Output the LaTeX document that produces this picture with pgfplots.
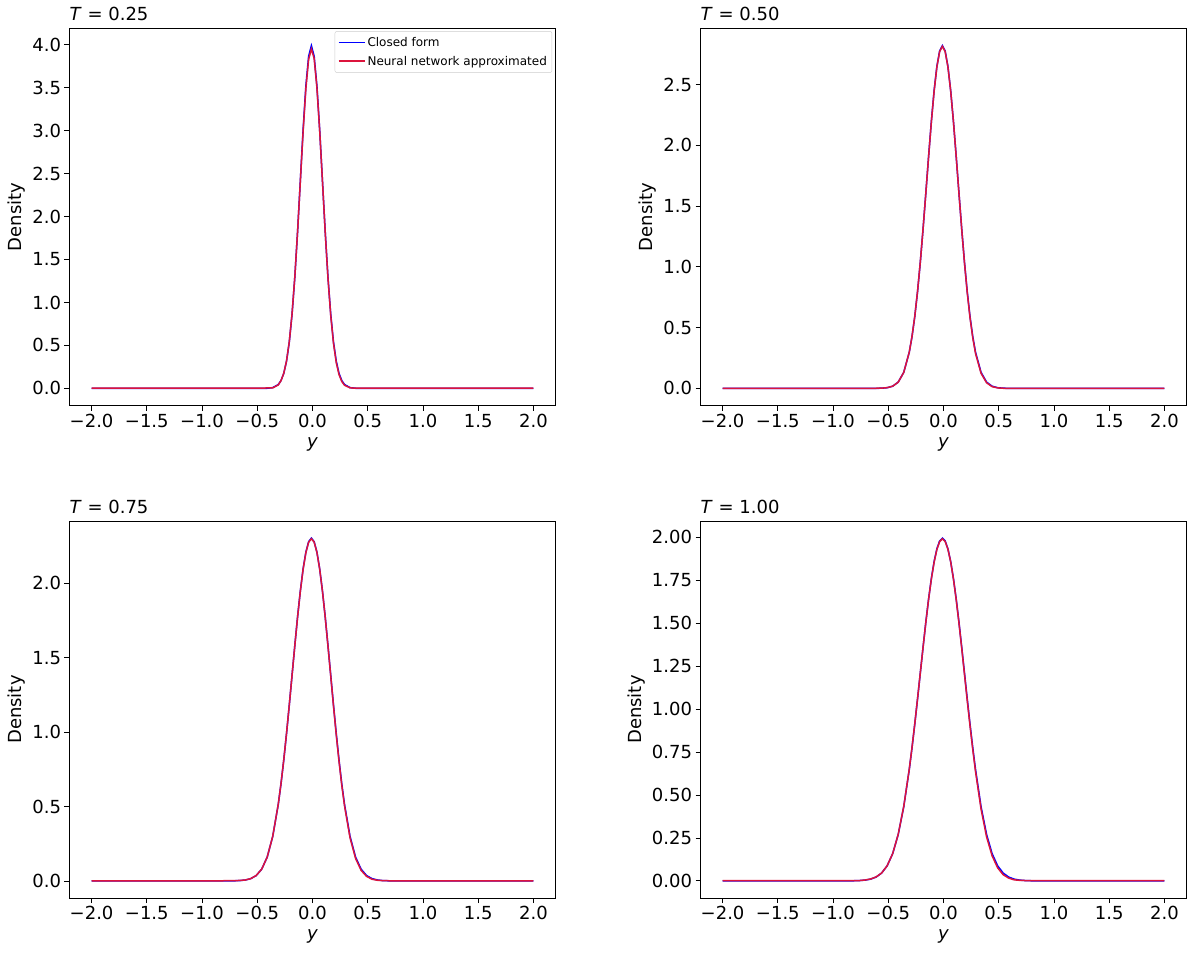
\documentclass[border=0pt]{standalone}
\usepackage{pgfplots}
\pgfplotsset{compat=1.18}
\usepackage{fontspec}
\setmainfont{DejaVu Sans}

\definecolor{cfblue}{RGB}{0,0,255}
\definecolor{nnred}{RGB}{220,20,60}

\newcommand{\panelfont}{\fontsize{18}{21}\selectfont}

\pgfplotsset{
  panel/.style={
    scale only axis, width=486pt, height=377pt,
    anchor=south west,
    xmin=-2.2, xmax=2.2,
    xtick={-2,-1.5,-1,-0.5,0,0.5,1,1.5,2},
    xticklabels={−2.0,−1.5,−1.0,−0.5,0.0,0.5,1.0,1.5,2.0},
    tick align=outside, tick pos=left, major tick length=5pt,
    axis line style={line width=0.8pt},
    every tick/.style={black, line width=0.8pt},
    tick label style={font=\panelfont},
    label style={font=\panelfont},
    xlabel={\textit{y}}, ylabel={Density},
    xlabel style={yshift=-3pt},
    title style={at={(0,1)}, anchor=base west, yshift=2pt, inner sep=0pt, font=\panelfont},
  },
  cf/.style={draw=cfblue, line width=1.5pt, no marks},
  nn/.style={draw=nnred, line width=1.5pt, no marks},
}

\begin{document}
\begin{tikzpicture}
\path[use as bounding box] (0pt,0pt) rectangle (1192pt,-954pt);

% ---------- T = 0.25 ----------
\begin{axis}[panel, at={(69.5pt,-405.5pt)},
    ymin=-0.1995, ymax=4.189,
    ytick={0,0.5,1,1.5,2,2.5,3,3.5,4},
    yticklabels={0.0,0.5,1.0,1.5,2.0,2.5,3.0,3.5,4.0},
    title={\textit{T} = 0.25},
    legend cell align=left,
    legend image code/.code={\draw[#1] (0pt,0pt) -- (26pt,0pt);},
    legend style={at={(0.993,0.993)}, anchor=north east,
      font=\fontsize{12}{14}\selectfont, draw=black!20, rounded corners=2pt,
      fill=white, inner xsep=3pt, inner ysep=4pt, row sep=4pt}]
\addlegendimage{draw=cfblue, color=cfblue, line width=1.6pt}
\addlegendentry{Closed form}
\addlegendimage{draw=nnred, color=nnred, line width=1.6pt}
\addlegendentry{Neural network approximated}
\addplot[cf, forget plot] coordinates {
  (-2,0) (-0.51,0) (-0.41,0.0013) (-0.36,0.0087) (-0.31,0.0443)
  (-0.285,0.0909) (-0.26,0.1753) (-0.235,0.3175) (-0.21,0.540) (-0.185,0.863)
  (-0.16,1.295) (-0.135,1.826) (-0.11,2.420) (-0.085,3.011) (-0.06,3.521)
  (-0.035,3.866) (-0.01,3.989) (0.015,3.866) (0.04,3.521) (0.065,3.011)
  (0.09,2.420) (0.115,1.826) (0.14,1.295) (0.165,0.863) (0.19,0.540)
  (0.215,0.3175) (0.24,0.1753) (0.265,0.0909) (0.29,0.0443) (0.34,0.0087)
  (0.39,0.0013) (0.49,0) (2,0)
};
\addplot[nn, forget plot] coordinates {
  (-2,0.002) (-0.51,0.002) (-0.36,0.006) (-0.31,0.040)
  (-0.285,0.090) (-0.26,0.176) (-0.235,0.320) (-0.21,0.545) (-0.185,0.870)
  (-0.16,1.300) (-0.135,1.826) (-0.11,2.410) (-0.085,2.990) (-0.06,3.490)
  (-0.035,3.830) (-0.01,3.950) (0.015,3.840) (0.04,3.500) (0.065,3.000)
  (0.09,2.415) (0.115,1.820) (0.14,1.285) (0.165,0.850) (0.19,0.525)
  (0.215,0.300) (0.24,0.160) (0.265,0.080) (0.29,0.036) (0.34,0.006)
  (0.39,0.002) (0.49,0.002) (2,0.002)
};
\end{axis}

% ---------- T = 0.50 ----------
\begin{axis}[panel, at={(700.5pt,-405.5pt)},
    ymin=-0.141, ymax=2.962,
    ytick={0,0.5,1,1.5,2,2.5},
    yticklabels={0.0,0.5,1.0,1.5,2.0,2.5},
    title={\textit{T} = 0.50}]
\addplot[cf] coordinates {
  (-2,0) (-0.71,0) (-0.61,0.0004) (-0.56,0.0015) (-0.51,0.0055) (-0.46,0.0179)
  (-0.41,0.0517) (-0.36,0.1319) (-0.31,0.2974) (-0.285,0.426) (-0.26,0.591)
  (-0.235,0.796) (-0.21,1.038) (-0.185,1.312) (-0.16,1.607) (-0.135,1.909)
  (-0.11,2.197) (-0.085,2.451) (-0.06,2.650) (-0.035,2.777) (-0.01,2.821)
  (0.015,2.777) (0.04,2.650) (0.065,2.451) (0.09,2.197) (0.115,1.909)
  (0.14,1.607) (0.165,1.312) (0.19,1.038) (0.215,0.796) (0.24,0.591)
  (0.265,0.426) (0.29,0.2974) (0.34,0.1319) (0.39,0.0517) (0.44,0.0179)
  (0.49,0.0055) (0.54,0.0015) (0.59,0.0004) (0.69,0) (2,0)
};
\addplot[nn] coordinates {
  (-2,0.001) (-0.71,0.001) (-0.61,0.001) (-0.56,0.002) (-0.51,0.006) (-0.46,0.018)
  (-0.41,0.051) (-0.36,0.131) (-0.31,0.298) (-0.285,0.428) (-0.26,0.594)
  (-0.235,0.799) (-0.21,1.040) (-0.185,1.313) (-0.16,1.606) (-0.135,1.906)
  (-0.11,2.192) (-0.085,2.446) (-0.06,2.645) (-0.035,2.772) (-0.01,2.815)
  (0.015,2.772) (0.04,2.646) (0.065,2.448) (0.09,2.195) (0.115,1.907)
  (0.14,1.604) (0.165,1.308) (0.19,1.032) (0.215,0.788) (0.24,0.582)
  (0.265,0.416) (0.29,0.287) (0.34,0.124) (0.39,0.046) (0.44,0.014)
  (0.49,0.004) (0.54,0.001) (0.59,0.001) (0.69,0.001) (2,0.001)
};
\end{axis}

% ---------- T = 0.75 ----------
\begin{axis}[panel, at={(69.5pt,-898pt)},
    ymin=-0.115, ymax=2.419,
    ytick={0,0.5,1,1.5,2},
    yticklabels={0.0,0.5,1.0,1.5,2.0},
    title={\textit{T} = 0.75}]
\addplot[cf] coordinates {
  (-2,0) (-0.91,0) (-0.81,0.0001) (-0.71,0.0007) (-0.66,0.0020) (-0.61,0.0057)
  (-0.56,0.0149) (-0.51,0.0357) (-0.46,0.0788) (-0.41,0.1601) (-0.36,0.299)
  (-0.31,0.514) (-0.285,0.653) (-0.26,0.813) (-0.235,0.991) (-0.21,1.183)
  (-0.185,1.383) (-0.16,1.583) (-0.135,1.776) (-0.11,1.950) (-0.085,2.098)
  (-0.06,2.210) (-0.035,2.280) (-0.01,2.304) (0.015,2.280) (0.04,2.210)
  (0.065,2.098) (0.09,1.950) (0.115,1.776) (0.14,1.583) (0.165,1.383)
  (0.19,1.183) (0.215,0.991) (0.24,0.813) (0.265,0.653) (0.29,0.514)
  (0.34,0.299) (0.39,0.1601) (0.44,0.0788) (0.49,0.0357) (0.54,0.0149)
  (0.59,0.0057) (0.64,0.0020) (0.69,0.0007) (0.79,0.0001) (0.89,0) (2,0)
};
\addplot[nn] coordinates {
  (-2,0.001) (-0.91,0.001) (-0.81,0.001) (-0.71,0.002) (-0.66,0.003) (-0.61,0.006)
  (-0.56,0.015) (-0.51,0.036) (-0.46,0.079) (-0.41,0.160) (-0.36,0.300)
  (-0.31,0.515) (-0.285,0.655) (-0.26,0.815) (-0.235,0.993) (-0.21,1.184)
  (-0.185,1.383) (-0.16,1.582) (-0.135,1.774) (-0.11,1.947) (-0.085,2.094)
  (-0.06,2.206) (-0.035,2.276) (-0.01,2.300) (0.015,2.277) (0.04,2.208)
  (0.065,2.096) (0.09,1.948) (0.115,1.773) (0.14,1.579) (0.165,1.378)
  (0.19,1.176) (0.215,0.983) (0.24,0.804) (0.265,0.643) (0.29,0.504)
  (0.34,0.289) (0.39,0.151) (0.44,0.071) (0.49,0.030) (0.54,0.011)
  (0.59,0.004) (0.64,0.002) (0.69,0.001) (0.79,0.001) (0.89,0.001) (2,0.001)
};
\end{axis}

% ---------- T = 1.00 ----------
\begin{axis}[panel, at={(700.5pt,-898pt)},
    ymin=-0.0998, ymax=2.095,
    ytick={0,0.25,0.5,0.75,1,1.25,1.5,1.75,2},
    yticklabels={0.00,0.25,0.50,0.75,1.00,1.25,1.50,1.75,2.00},
    title={\textit{T} = 1.00}]
\addplot[cf] coordinates {
  (-2,0) (-1.01,0) (-0.91,0.0001) (-0.81,0.0007) (-0.76,0.0018) (-0.71,0.0044)
  (-0.66,0.0101) (-0.61,0.0222) (-0.56,0.0455) (-0.51,0.0877) (-0.46,0.1588)
  (-0.41,0.270) (-0.36,0.4315) (-0.31,0.648) (-0.285,0.775) (-0.26,0.913)
  (-0.235,1.059) (-0.21,1.210) (-0.185,1.360) (-0.16,1.506) (-0.135,1.641)
  (-0.11,1.760) (-0.085,1.859) (-0.06,1.933) (-0.035,1.979) (-0.01,1.995)
  (0.015,1.979) (0.04,1.933) (0.065,1.859) (0.09,1.760) (0.115,1.641)
  (0.14,1.506) (0.165,1.360) (0.19,1.210) (0.215,1.059) (0.24,0.913)
  (0.265,0.775) (0.29,0.648) (0.34,0.4315) (0.39,0.270) (0.44,0.1588)
  (0.49,0.0877) (0.54,0.0455) (0.59,0.0222) (0.64,0.0101) (0.69,0.0044)
  (0.74,0.0018) (0.79,0.0007) (0.89,0.0001) (0.99,0) (2,0)
};
\addplot[nn] coordinates {
  (-2,0.001) (-1.01,0.001) (-0.91,0.001) (-0.81,0.001) (-0.76,0.002) (-0.71,0.005)
  (-0.66,0.011) (-0.61,0.023) (-0.56,0.046) (-0.51,0.088) (-0.46,0.159)
  (-0.41,0.271) (-0.36,0.433) (-0.31,0.650) (-0.285,0.777) (-0.26,0.915)
  (-0.235,1.061) (-0.21,1.211) (-0.185,1.360) (-0.16,1.505) (-0.135,1.639)
  (-0.11,1.757) (-0.085,1.855) (-0.06,1.929) (-0.035,1.975) (-0.01,1.991)
  (0.015,1.976) (0.04,1.931) (0.065,1.857) (0.09,1.757) (0.115,1.637)
  (0.14,1.501) (0.165,1.354) (0.19,1.202) (0.215,1.050) (0.24,0.903)
  (0.265,0.764) (0.29,0.636) (0.34,0.418) (0.39,0.256) (0.44,0.146)
  (0.49,0.076) (0.54,0.036) (0.59,0.016) (0.64,0.006) (0.69,0.003)
  (0.74,0.002) (0.79,0.001) (0.89,0.001) (0.99,0.001) (2,0.001)
};
\end{axis}
\end{tikzpicture}
\end{document}
